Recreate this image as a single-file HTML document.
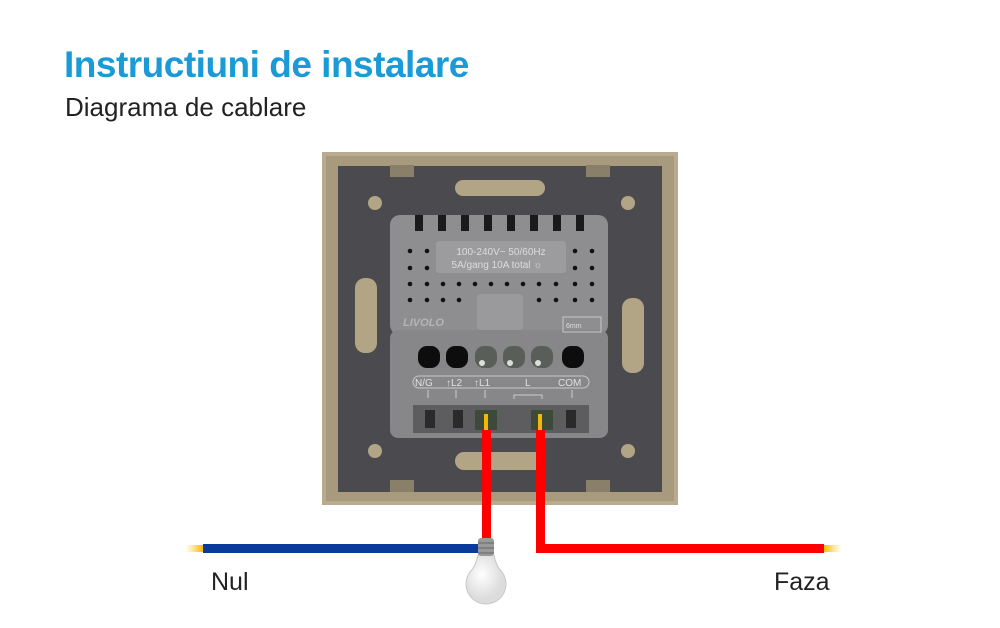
<!DOCTYPE html>
<html><head><style>
html,body{margin:0;padding:0;background:#fff;}
body{width:1000px;height:628px;position:relative;overflow:hidden;font-family:"Liberation Sans",sans-serif;}
.t{position:absolute;left:64px;top:44px;font-size:37px;font-weight:bold;color:#1a9ad6;letter-spacing:-0.5px;}
.s{position:absolute;left:65px;top:92px;font-size:26px;color:#222;}
.l{position:absolute;font-size:25px;color:#222;top:568px;}
</style></head><body>
<div class="t">Instructiuni de instalare</div>
<div class="s">Diagrama de cablare</div>
<div class="l" style="left:211px">Nul</div>
<div class="l" style="left:774px">Faza</div>
<svg width="1000" height="628" style="position:absolute;left:0;top:0">
<defs>
<linearGradient id="y1" x1="0" x2="1"><stop offset="0" stop-color="#ffd040" stop-opacity="0"/><stop offset="1" stop-color="#f5b800"/></linearGradient>
<linearGradient id="y2" x1="1" x2="0"><stop offset="0" stop-color="#ffd040" stop-opacity="0"/><stop offset="1" stop-color="#f5b800"/></linearGradient>
<radialGradient id="bg" cx="0.4" cy="0.4"><stop offset="0" stop-color="#fff"/><stop offset="1" stop-color="#dcdcdc"/></radialGradient>
</defs>
<rect x="322" y="152" width="356" height="353" fill="#b9ab8d"/>
<rect x="326" y="156" width="348" height="345" fill="#a89a7c"/>
<rect x="338" y="166" width="324" height="326" fill="#4b4b4f"/>
<rect x="390" y="165" width="24" height="12" fill="#8a7f68"/><rect x="586" y="165" width="24" height="12" fill="#8a7f68"/>
<rect x="390" y="480" width="24" height="12" fill="#8a7f68"/><rect x="586" y="480" width="24" height="12" fill="#8a7f68"/>
<rect x="455" y="180" width="90" height="16" rx="8" fill="#b2a586"/>
<rect x="455" y="452" width="90" height="18" rx="9" fill="#b2a586"/>
<rect x="355" y="278" width="22" height="75" rx="10" fill="#b2a586"/>
<rect x="622" y="298" width="22" height="75" rx="10" fill="#b2a586"/>
<circle cx="375" cy="203" r="7" fill="#b2a586"/><circle cx="628" cy="203" r="7" fill="#b2a586"/>
<circle cx="375" cy="451" r="7" fill="#b2a586"/><circle cx="628" cy="451" r="7" fill="#b2a586"/>
<rect x="390" y="215" width="218" height="120" rx="10" fill="#8e8e90"/>
<rect x="390" y="330" width="218" height="108" rx="8" fill="#878789"/>
<g fill="#1a1a1a">
<rect x="415" y="215" width="8" height="16"/><rect x="438" y="215" width="8" height="16"/><rect x="461" y="215" width="8" height="16"/><rect x="484" y="215" width="8" height="16"/><rect x="507" y="215" width="8" height="16"/><rect x="530" y="215" width="8" height="16"/><rect x="553" y="215" width="8" height="16"/><rect x="576" y="215" width="8" height="16"/>
</g>
<rect x="436" y="241" width="130" height="32" rx="3" fill="#9c9c9e"/>
<text x="501" y="255" font-size="10" fill="#dcdcdc" text-anchor="middle">100-240V~  50/60Hz</text>
<text x="497" y="268" font-size="10" fill="#dcdcdc" text-anchor="middle">5A/gang 10A total ☼</text>
<g fill="#111">
<circle cx="410" cy="251" r="2.3"/><circle cx="427" cy="251" r="2.3"/><circle cx="575" cy="251" r="2.3"/><circle cx="592" cy="251" r="2.3"/>
<circle cx="410" cy="268" r="2.3"/><circle cx="427" cy="268" r="2.3"/><circle cx="575" cy="268" r="2.3"/><circle cx="592" cy="268" r="2.3"/>
<circle cx="410" cy="284" r="2.3"/><circle cx="427" cy="284" r="2.3"/><circle cx="443" cy="284" r="2.3"/><circle cx="459" cy="284" r="2.3"/><circle cx="475" cy="284" r="2.3"/><circle cx="491" cy="284" r="2.3"/><circle cx="507" cy="284" r="2.3"/><circle cx="523" cy="284" r="2.3"/><circle cx="539" cy="284" r="2.3"/><circle cx="556" cy="284" r="2.3"/><circle cx="575" cy="284" r="2.3"/><circle cx="592" cy="284" r="2.3"/>
<circle cx="410" cy="300" r="2.3"/><circle cx="427" cy="300" r="2.3"/><circle cx="443" cy="300" r="2.3"/><circle cx="459" cy="300" r="2.3"/><circle cx="539" cy="300" r="2.3"/><circle cx="556" cy="300" r="2.3"/><circle cx="575" cy="300" r="2.3"/><circle cx="592" cy="300" r="2.3"/>
</g>
<rect x="477" y="294" width="46" height="36" rx="4" fill="#9a9a9c"/>
<text x="403" y="326" font-size="11" font-style="italic" font-weight="bold" fill="#b5b5b5">LIVOLO</text>
<rect x="563" y="317" width="38" height="15" fill="none" stroke="#c8c8c8"/><text x="566" y="328" font-size="7" fill="#ddd">6mm</text>
<g fill="#0d0d0d"><rect x="418" y="346" width="22" height="22" rx="9"/><rect x="446" y="346" width="22" height="22" rx="9"/><rect x="562" y="346" width="22" height="22" rx="9"/></g>
<g fill="#5a5e58"><rect x="475" y="346" width="22" height="22" rx="9"/><rect x="503" y="346" width="22" height="22" rx="9"/><rect x="531" y="346" width="22" height="22" rx="9"/></g>
<g fill="#ddd"><circle cx="482" cy="363" r="3"/><circle cx="510" cy="363" r="3"/><circle cx="538" cy="363" r="3"/></g>
<rect x="413" y="376" width="176" height="12" rx="6" fill="none" stroke="#c8c8c8"/>
<g font-size="10" fill="#e0e0e0"><text x="415" y="386">N/G</text><text x="446" y="386">↑L2</text><text x="474" y="386">↑L1</text><text x="525" y="386">L</text><text x="558" y="386">COM</text></g>
<g stroke="#ccc"><line x1="428" y1="390" x2="428" y2="398"/><line x1="456" y1="390" x2="456" y2="398"/><line x1="485" y1="390" x2="485" y2="398"/><line x1="572" y1="390" x2="572" y2="398"/><polyline points="514,399 514,395 542,395 542,399" fill="none"/></g>
<g fill="#5d5d5f"><rect x="413" y="405" width="176" height="28"/></g>
<g fill="#2a2a2a"><rect x="425" y="410" width="10" height="18"/><rect x="453" y="410" width="10" height="18"/><rect x="566" y="410" width="10" height="18"/></g>
<rect x="475" y="410" width="22" height="20" fill="#3d4a3a"/><rect x="531" y="410" width="22" height="20" fill="#3d4a3a"/>
<rect x="484" y="414" width="4" height="16" fill="#f5b800"/><rect x="538" y="414" width="4" height="16" fill="#f5b800"/>
<rect x="185" y="545" width="18" height="7" fill="url(#y1)"/>
<rect x="824" y="545" width="18" height="7" fill="url(#y2)"/>
<rect x="203" y="544" width="278" height="9" fill="#0a3a9a"/>
<rect x="482" y="430" width="9" height="110" fill="#ff0000"/>
<rect x="536" y="430" width="9" height="123" fill="#ff0000"/>
<rect x="536" y="544" width="288" height="9" fill="#ff0000"/>
<path d="M478 555 Q476 566 470 572 A20 20 0 1 0 502 572 Q496 566 494 555 Z" fill="url(#bg)" stroke="#c8c8c8"/>
<rect x="478" y="538" width="16" height="18" rx="3" fill="#9a9a9a"/>
<g stroke="#666" stroke-width="1"><line x1="478" y1="543" x2="494" y2="543"/><line x1="478" y1="548" x2="494" y2="548"/><line x1="478" y1="553" x2="494" y2="553"/></g>
</svg>
</body></html>
